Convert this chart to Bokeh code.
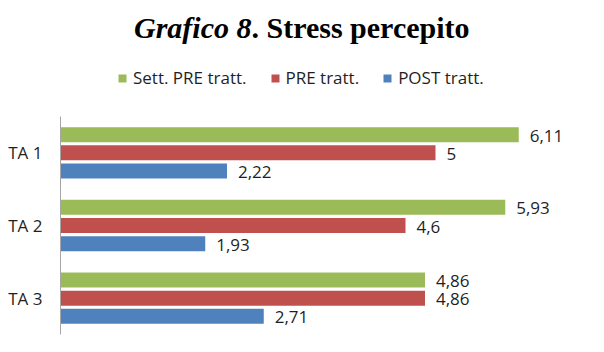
from bokeh.plotting import figure
from bokeh.layouts import column
from bokeh.models import Range1d, FactorRange, ColumnDataSource, Label, Legend, LegendItem, LabelSet
from bokeh.transform import dodge
from bokeh.core.properties import value
from bokeh.embed import file_html
from bokeh.resources import INLINE

categories = ["TA 1", "TA 2", "TA 3"]
series_names = ["Sett. PRE tratt.", "PRE tratt.", "POST tratt."]
sett_pre = [6.11, 5.93, 4.86]
pre = [5.0, 4.6, 4.86]
post = [2.22, 1.93, 2.71]
sett_pre_labels = ["6,11", "5,93", "4,86"]
pre_labels = ["5", "4,6", "4,86"]
post_labels = ["2,22", "1,93", "2,71"]
colors = ["#9BBB59", "#C0504D", "#4F81BD"]

FONT = "Open Sans"
TXT = "#1f1f1f"
W = 604
TOP_H = 116
LEFT = 60
RIGHT = 30

# ---------- header figure: title + legend ----------
h = figure(width=W, height=TOP_H, output_backend="svg", toolbar_location=None,
           x_range=Range1d(LEFT, W - RIGHT), y_range=Range1d(0, TOP_H),
           min_border_left=LEFT, min_border_right=RIGHT, min_border_top=0, min_border_bottom=0,
           x_axis_location=None, y_axis_location=None)
h.outline_line_color = None
h.xgrid.visible = False
h.ygrid.visible = False

proxies = []
for vals, c in zip([sett_pre, pre, post], colors):
    s = ColumnDataSource(dict(v=vals))
    r = h.hbar(y="v", right="v", left=0, height=0.2, fill_color=c, line_color=None,
               source=s, visible=False)
    proxies.append(r)
legend = Legend(items=[LegendItem(label=n, renderers=[r]) for n, r in zip(series_names, proxies)],
                orientation="horizontal", location=(117 - LEFT, 27),
                glyph_width=10, glyph_height=10, label_standoff=6, spacing=23,
                label_text_font=FONT, label_text_font_size="17px", label_text_color=TXT,
                padding=0, margin=0, border_line_color=None, background_fill_alpha=0,
                inactive_fill_alpha=0)
h.add_layout(legend)

split_x = 251
base_y = TOP_H - 27
t1 = Label(x=split_x, y=base_y, text="Grafico 8",
           text_font="Liberation Serif", text_font_style="bold italic", text_font_size="30px",
           text_align="right", text_baseline="alphabetic", text_color="black")
t2 = Label(x=split_x, y=base_y, text=". Stress percepito",
           text_font="Liberation Serif", text_font_style="bold", text_font_size="30px",
           text_align="left", text_baseline="alphabetic", text_color="black")
h.add_layout(t1)
h.add_layout(t2)

# ---------- chart figure ----------
p = figure(width=W, height=352 - TOP_H, output_backend="svg", toolbar_location=None,
           y_range=FactorRange(factors=list(reversed(categories))),
           x_range=Range1d(0, (W - LEFT - RIGHT) / 75.0),
           min_border_left=LEFT, min_border_right=RIGHT, min_border_top=0, min_border_bottom=18,
           x_axis_location=None)
p.outline_line_color = None
p.xgrid.visible = False
p.ygrid.visible = False

ax = p.yaxis[0]
ax.axis_line_color = "#A6A6A6"
ax.major_tick_line_color = None
ax.minor_tick_line_color = None
ax.major_label_standoff = 12
ax.major_label_text_font = FONT
ax.major_label_text_font_size = "17px"
ax.major_label_text_color = TXT

src = ColumnDataSource(dict(cat=categories, s=sett_pre, r=pre, b=post,
                            sl=sett_pre_labels, rl=pre_labels, bl=post_labels))

offsets = [0.25, 0.0, -0.25]
fields = ["s", "r", "b"]
lfields = ["sl", "rl", "bl"]
for f, lf, off, c in zip(fields, lfields, offsets, colors):
    p.hbar(y=dodge("cat", off, range=p.y_range), right=f, left=0, height=0.207,
           fill_color=c, line_color=None, source=src)
    lab = LabelSet(x=f, y=dodge("cat", off, range=p.y_range), text=lf, source=src,
                   x_offset=11, y_offset=-7, text_baseline="alphabetic", text_align="left",
                   text_font=value(FONT), text_font_size=value("17px"), text_color=TXT)
    p.add_layout(lab)

layout = column(h, p, spacing=0)
open("out.html", "w").write(file_html(layout, INLINE))
